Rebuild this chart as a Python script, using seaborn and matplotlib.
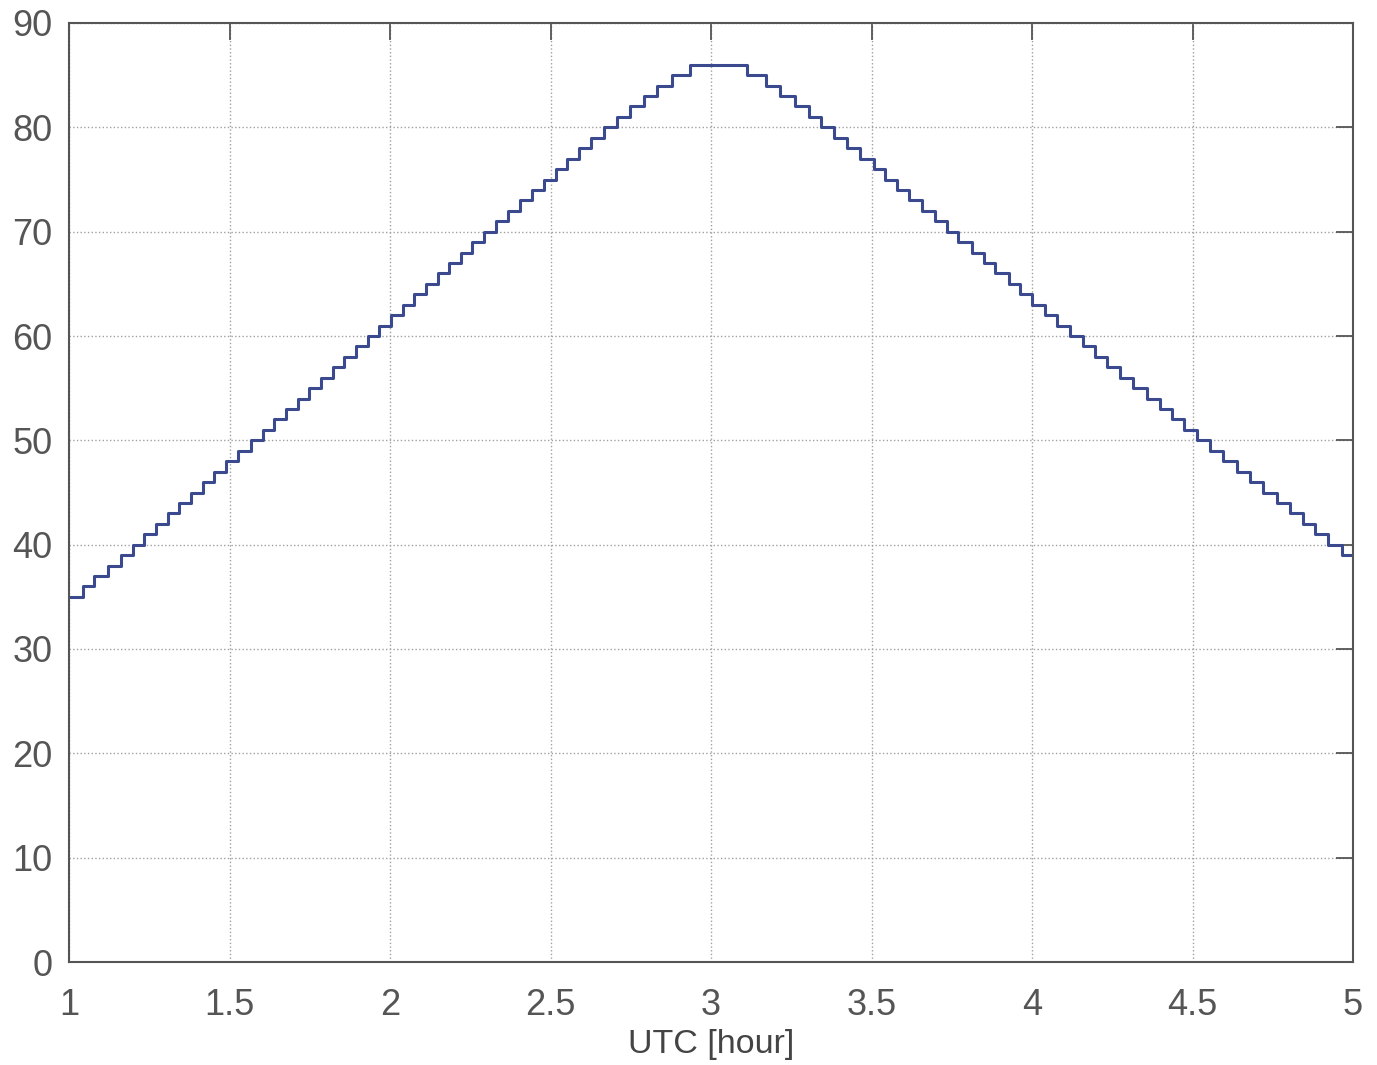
import matplotlib
matplotlib.use('Agg')
import matplotlib.pyplot as plt
import seaborn as sns
import pandas as pd

# Start time (UTC hour) of each step and its elevation value
rise_times = [1.000, 1.043, 1.079, 1.120, 1.162, 1.198, 1.234, 1.271, 1.307, 1.343,
              1.380, 1.416, 1.452, 1.489, 1.525, 1.567, 1.603, 1.639, 1.675, 1.712,
              1.748, 1.784, 1.821, 1.857, 1.893, 1.930, 1.966, 2.002, 2.039, 2.075,
              2.111, 2.148, 2.184, 2.220, 2.257, 2.293, 2.329, 2.367, 2.404, 2.443,
              2.480, 2.516, 2.552, 2.588, 2.625, 2.666, 2.708, 2.749, 2.791, 2.833,
              2.879, 2.936]
rise_values = [35, 36, 37, 38, 39, 40, 41, 42, 43, 44,
               45, 46, 47, 48, 49, 50, 51, 52, 53, 54,
               55, 56, 57, 58, 59, 60, 61, 62, 63, 64,
               65, 66, 67, 68, 69, 70, 71, 72, 73, 74,
               75, 76, 77, 78, 79, 80, 81, 82, 83, 84,
               85, 86]
fall_times = [3.111, 3.170, 3.216, 3.263, 3.306, 3.343, 3.382, 3.424, 3.465, 3.507,
              3.543, 3.580, 3.616, 3.657, 3.699, 3.735, 3.771, 3.813, 3.849, 3.886,
              3.927, 3.963, 4.000, 4.041, 4.078, 4.119, 4.160, 4.197, 4.233, 4.275,
              4.316, 4.358, 4.399, 4.436, 4.472, 4.513, 4.555, 4.596, 4.638, 4.679,
              4.721, 4.762, 4.804, 4.845, 4.882, 4.923, 4.965]
fall_values = [85, 84, 83, 82, 81, 80, 79, 78, 77, 76,
               75, 74, 73, 72, 71, 70, 69, 68, 67, 66,
               65, 64, 63, 62, 61, 60, 59, 58, 57, 56,
               55, 54, 53, 52, 51, 50, 49, 48, 47, 46,
               45, 44, 43, 42, 41, 40, 39]
end_time = [5.0]
end_value = [39]

x_ticks = [1, 1.5, 2, 2.5, 3, 3.5, 4, 4.5, 5]
x_tick_labels = ['1', '1.5', '2', '2.5', '3', '3.5', '4', '4.5', '5']
y_ticks = [0, 10, 20, 30, 40, 50, 60, 70, 80, 90]
y_tick_labels = ['0', '10', '20', '30', '40', '50', '60', '70', '80', '90']

df = pd.DataFrame({
    't': rise_times + fall_times + end_time,
    'el': rise_values + fall_values + end_value,
})

sns.set_style('white')
plt.rcParams['font.family'] = ['Liberation Sans', 'DejaVu Sans']

fig = plt.figure(figsize=(13.77, 10.65), dpi=100)
ax = fig.add_axes([69 / 1377, 103 / 1065, (1353 - 69) / 1377, (962 - 23) / 1065])

sns.lineplot(data=df, x='t', y='el', drawstyle='steps-post', color='#3b4a8f',
             linewidth=2.2, estimator=None, sort=False, ax=ax)

ax.set_xlim(1, 5)
ax.set_ylim(0, 90)
ax.set_xticks(x_ticks)
ax.set_xticklabels(x_tick_labels)
ax.set_yticks(y_ticks)
ax.set_yticklabels(y_tick_labels)

ax.grid(True, linestyle=':', color='#a0a0a0', linewidth=1.0)
ax.set_axisbelow(True)

ax.tick_params(axis='both', direction='in', length=12, width=1.3, top=True, right=True,
               labelsize=26, labelcolor='#555555', color='#555555')
ax.tick_params(axis='x', pad=19)
ax.tick_params(axis='y', pad=12)

for s in ax.spines.values():
    s.set_color('#555555')
    s.set_linewidth(1.5)

ax.set_xlabel('UTC [hour]', fontsize=24.5, color='#444444', labelpad=4)
ax.set_ylabel('')

fig.savefig('out.png', dpi=100)
